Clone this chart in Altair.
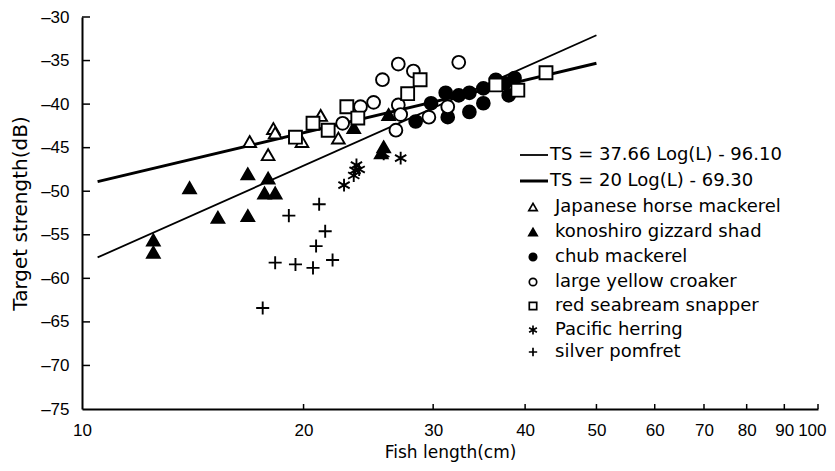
import altair as alt
import pandas as pd

FONT = "DejaVu Sans"
TICKFONT = "Liberation Sans"

species = ["Japanese horse mackerel", "konoshiro gizzard shad", "chub mackerel",
           "large yellow croaker", "red seabream snapper", "Pacific herring", "silver pomfret"]

jhm_L = [16.9, 18.2, 18.3, 17.9, 19.9, 21.1, 22.3]
jhm_TS = [-44.3, -42.8, -43.3, -45.8, -44.3, -41.3, -43.9]

kgs_L = [12.5, 12.5, 14.0, 15.3, 16.8, 16.8, 17.9, 17.7, 18.3, 23.4, 25.7, 25.5, 26.1]
kgs_TS = [-55.6, -57.0, -49.6, -53.0, -48.0, -52.8, -48.5, -50.2, -50.2, -42.7, -44.9, -45.6, -41.2]

chub_L = [28.4, 29.8, 31.2, 31.4, 32.5, 33.6, 33.6, 35.1, 35.1, 36.5, 37.5, 38.7, 38.0]
chub_TS = [-42.0, -39.9, -38.7, -41.5, -39.0, -38.7, -40.9, -38.2, -39.9, -37.2, -37.6, -37.0, -39.0]

lyc_L = [26.9, 28.2, 25.6, 32.5, 24.9, 23.9, 22.6, 26.9, 27.1, 26.7, 29.6, 31.4]
lyc_TS = [-35.4, -36.2, -37.2, -35.2, -39.8, -40.3, -42.2, -40.1, -41.2, -43.0, -41.5, -40.3]

rss_L = [19.5, 20.6, 21.6, 22.9, 23.7, 27.7, 28.8, 36.5, 39.1, 42.7]
rss_TS = [-43.8, -42.2, -43.0, -40.3, -41.6, -38.8, -37.2, -37.8, -38.4, -36.4]

ph_L = [22.7, 23.4, 23.5, 23.6, 23.8, 25.7, 27.1]
ph_TS = [-49.3, -48.2, -47.6, -47.0, -47.5, -45.7, -46.2]

sp_L = [17.6, 18.3, 19.1, 19.5, 20.6, 20.8, 21.0, 21.4, 21.9]
sp_TS = [-63.4, -58.2, -52.8, -58.4, -58.8, -56.3, -51.5, -54.6, -57.9]

eq_labels = ["TS = 37.66 Log(L) - 96.10", "TS = 20 Log(L) - 69.30"]
eq1_L = [10.5, 50]
eq1_TS = [-57.6, -32.1]
eq2_L = [10.5, 50]
eq2_TS = [-48.9, -35.3]

x_ticks = [10, 20, 30, 40, 50, 60, 70, 80, 90, 100]
y_ticks = [-30, -35, -40, -45, -50, -55, -60, -65, -70, -75]

# ---- build tables ----
series_L = [jhm_L, kgs_L, chub_L, lyc_L, rss_L, ph_L, sp_L]
series_TS = [jhm_TS, kgs_TS, chub_TS, lyc_TS, rss_TS, ph_TS, sp_TS]
rows = []
for name, Ls, Ts in zip(species, series_L, series_TS):
    for l, t in zip(Ls, Ts):
        rows.append({"species": name, "L": l, "TS": t})
pts = pd.DataFrame(rows)

line_rows = []
for lab, Ls, Ts in zip(eq_labels, [eq1_L, eq2_L], [eq1_TS, eq2_TS]):
    for l, t in zip(Ls, Ts):
        line_rows.append({"eq": lab, "L": l, "TS": t})
lines = pd.DataFrame(line_rows)

ASTER = "M0,-1L0,1M-0.87,-0.5L0.87,0.5M-0.87,0.5L0.87,-0.5"
PLUS = "M-1,0L1,0M0,-1L0,1"
shapes = ["triangle-up", "triangle-up", "circle", "circle", "square", ASTER, PLUS]
fills = ["white", "black", "black", "white", "white", "black", "black"]
sizes = [160, 170, 130, 130, 130, 190, 130]
leg_sizes = [70, 70, 55, 55, 55, 80, 70]

xscale = alt.Scale(type="log", domain=[10, 100], nice=False)
yscale = alt.Scale(domain=[-75, -30], nice=False, zero=False)

xaxis = alt.Axis(values=x_ticks, format="d", title="Fish length(cm)", grid=False,
                 ticks=False, tickSize=0, labelPadding=13, titlePadding=6,
                 labelFont=TICKFONT, labelFontSize=17, titleFontSize=17,
                 labelOverlap=False,
                 labelAlign={"condition": {"test": "datum.value == 100", "value": "right"}, "value": "center"},
                 labelOffset={"condition": {"test": "datum.value == 100", "value": 8}, "value": 0},
                 domainColor="black", domainWidth=2, labelFlush=False)
yaxis = alt.Axis(values=y_ticks, title="Target strength(dB)", grid=False,
                 ticks=False, tickSize=0, labelPadding=13, titlePadding=10,
                 labelFont=TICKFONT, labelFontSize=17, titleFontSize=20,
                 labelOverlap=False,
                 labelExpr="'–' + (-datum.value)",
                 domainColor="black", domainWidth=2)

X = alt.X("L:Q", scale=xscale, axis=xaxis)
Y = alt.Y("TS:Q", scale=yscale, axis=yaxis)

fit = alt.Chart(lines).mark_line(color="black").encode(
    x=X, y=Y,
    detail="eq:N",
    strokeWidth=alt.StrokeWidth("eq:N", scale=alt.Scale(domain=eq_labels, range=[1.8, 3.0]), legend=None),
)

points = alt.Chart(pts).mark_point(filled=True, opacity=1, strokeWidth=1.9).encode(
    x=X, y=Y,
    shape=alt.Shape("species:N", scale=alt.Scale(domain=species, range=shapes), legend=None),
    fill=alt.Fill("species:N", scale=alt.Scale(domain=species, range=fills), legend=None),
    size=alt.Size("species:N", scale=alt.Scale(domain=species, range=sizes), legend=None),
    stroke=alt.value("black"),
)

xt = alt.Chart(pd.DataFrame({"L": x_ticks[1:]})).mark_rule(color="black", strokeWidth=1.5).encode(
    x=X, y=alt.value(392), y2=alt.value(387))
yt = alt.Chart(pd.DataFrame({"TS": y_ticks[:-1]})).mark_rule(color="black", strokeWidth=1.5).encode(
    y=Y, x=alt.value(0), x2=alt.value(8))

# ---- legend ----
leg_layers = []
line_y = [138, 164]
for lab, yy, sw in zip(eq_labels, line_y, [1.8, 3.0]):
    one = alt.Data(values=[{"k": 1}])
    leg_layers.append(alt.Chart(one).mark_rule(color="black", strokeWidth=sw).encode(
        x=alt.value(438), x2=alt.value(466), y=alt.value(yy)))
    leg_layers.append(alt.Chart(one).mark_text(text=lab, align="left", baseline="middle",
                                               font=FONT, fontSize=18, color="black").encode(
        x=alt.value(468), y=alt.value(yy)))
sym_y = [190, 215, 240, 265, 289, 313, 335]
for name, shp, fl, sz, yy in zip(species, shapes, fills, leg_sizes, sym_y):
    one = alt.Data(values=[{"k": 1}])
    leg_layers.append(alt.Chart(one).mark_point(shape=shp, filled=True, fill=fl, stroke="black",
                                                strokeWidth=1.7, size=sz, opacity=1).encode(
        x=alt.value(451), y=alt.value(yy)))
    leg_layers.append(alt.Chart(one).mark_text(text=name, align="left", baseline="middle",
                                               font=FONT, fontSize=18, color="black").encode(
        x=alt.value(473), y=alt.value(yy)))

chart = alt.layer(fit, xt, yt, points, *leg_layers).properties(
    width=736, height=392,
    autosize=alt.AutoSizeParams(type="none"),
    padding={"left": 74, "top": 9, "right": 9, "bottom": 54},
).configure_view(stroke=None).configure_axis(
    labelColor="black",
    titleFont=FONT, titleFontWeight="normal", titleColor="black",
)

chart.save("out.html", embed_options={"renderer": "svg", "actions": False})
